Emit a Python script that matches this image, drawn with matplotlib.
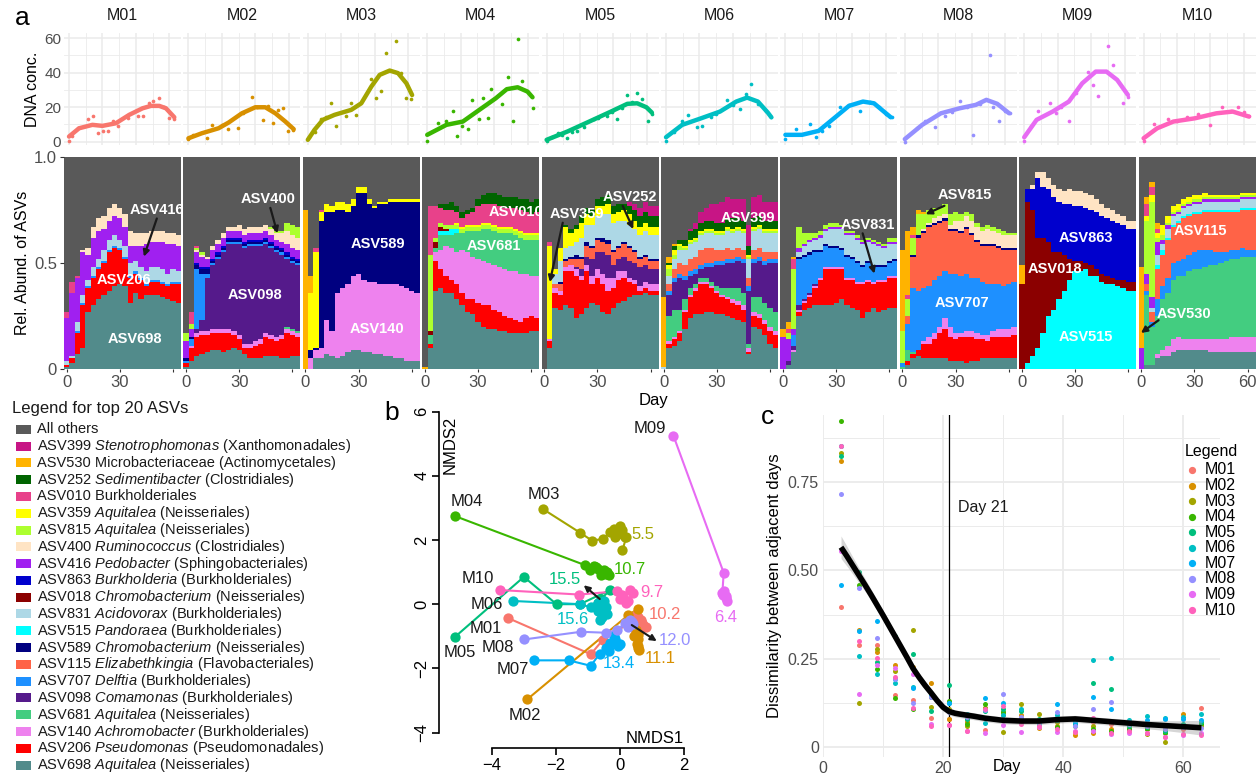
import matplotlib
matplotlib.use("Agg")
import matplotlib.pyplot as plt
import numpy as np
from matplotlib.patches import Rectangle
from matplotlib.lines import Line2D

plt.rcParams['font.family'] = ['Liberation Sans', 'DejaVu Sans']
plt.rcParams['mathtext.fontset'] = 'custom'
plt.rcParams['mathtext.rm'] = 'Liberation Sans'
plt.rcParams['mathtext.it'] = 'Liberation Sans:italic'

W, H = 1258, 775

mice = ["M01", "M02", "M03", "M04", "M05", "M06", "M07", "M08", "M09", "M10"]
mouse_colors = ["#F8766D", "#D89000", "#A3A500", "#39B600", "#00BF7D",
                "#00BFC4", "#00B0F6", "#9590FF", "#E76BF3", "#FF62BC"]

# ---------------- panel a, top: DNA concentration ----------------
m01_day = [0, 1.6, 5.6, 11.6, 14.4, 17.6, 20.6, 23.6, 26.6, 29.6, 35, 41, 44.4, 47.6, 50.4, 53.6, 56.6, 59.6, 62.6]
m01_dna = [0.6, 3.3, 8.1, 13, 14.9, 5.2, 6.4, 6.2, 12.2, 9.1, 13.5, 15.1, 14.9, 22.6, 23.6, 25.5, 19.9, 13.5, 13.2]
m01_fit_day = [0, 6, 14, 20, 28, 36, 44, 49, 54, 58, 63]
m01_fit = [2.9, 7.7, 9.7, 9.1, 10.6, 15.5, 19.3, 20.7, 20.7, 19.3, 14.1]

m02_day = [0, 3, 11, 14, 20, 23.6, 29.6, 32.4, 38, 41, 44.6, 47.6, 50.4, 53.4, 56.6, 59.4, 62.4]
m02_dna = [1.5, 3.9, 2.3, 9.7, 9.7, 7.2, 7.7, 16.4, 25.7, 20.3, 12.6, 20.7, 11, 18.4, 19.3, 6.2, 6.8]
m02_fit_day = [0, 8, 18, 24, 32, 40, 46, 52, 58, 63]
m02_fit = [1.9, 4.8, 7.7, 11, 16.4, 19.9, 19.9, 16.4, 11.6, 7.2]

m03_day = [1, 4, 8, 11, 14, 17, 23, 26, 29, 37.6, 41, 44, 47, 53, 56, 59, 62]
m03_dna = [2.5, 5.8, 13, 14.1, 22.6, 9.1, 14.9, 22.2, 15.5, 36.2, 25.1, 29.6, 51.3, 58.4, 39.7, 25.1, 24.6]
m03_fit_day = [0, 4, 9, 16, 26, 32, 38, 43, 49, 54, 59, 62.4]
m03_fit = [1, 6.8, 12.6, 15.5, 18.4, 22.2, 31.9, 38.7, 41.2, 39.7, 33.8, 27]

m04_day = [0, 6.6, 11.5, 15.4, 18, 20.7, 24.6, 26.9, 31.2, 33.5, 36.1, 38.4, 44.9, 48.2, 51.5, 54.1, 56.8, 63]
m04_dna = [0.4, 11, 12.2, 17.8, 3.3, 9.1, 7.2, 24.2, 13.2, 25.5, 13.5, 30.4, 21.9, 37.3, 12, 59.4, 35.2, 19.7]
m04_fit_day = [0, 11.5, 21.3, 31.2, 41, 47.6, 54.1, 60, 63]
m04_fit = [3.9, 9.7, 11.6, 18.4, 25.1, 30.4, 31.5, 29, 25.7]

m05_day = [0, 3, 6.9, 9.1, 12.4, 15, 18.3, 22.2, 28.1, 31, 36.2, 39, 42.4, 45, 48.3, 51, 54.2, 57.1, 60.7, 63]
m05_dna = [0.4, 2.5, 4.8, 3.9, 1.9, 5.5, 6.4, 8.7, 13, 13.5, 14.9, 17, 13, 19.5, 27.1, 23, 28.4, 24.8, 12, 16]
m05_fit_day = [0, 12.4, 25.5, 38.5, 48.3, 54.2, 59.7, 63]
m05_fit = [1, 5.8, 11.6, 17.4, 21.9, 22.2, 19.9, 16.8]

m06_day = [0, 4.8, 9.7, 12.9, 18.7, 21.6, 26.8, 30, 36.5, 40, 44.3, 47.8, 50.7, 55, 60, 63]
m06_dna = [0.4, 5.8, 12.2, 15.5, 8.3, 9.1, 14.1, 16, 24.2, 21, 18.8, 27.7, 33.5, 22, 18, 14.5]
m06_fit_day = [0, 9.7, 21, 32.3, 42, 48.5, 55, 60.9, 63]
m06_fit = [2.5, 9.7, 13.5, 17.4, 23.2, 25.5, 23.2, 16.8, 14.1]

m07_day = [0, 6.6, 14.9, 18.2, 22, 26, 32.5, 38, 44.8, 50.7, 56, 60, 63.7]
m07_dna = [1.4, 7.2, 10.3, 2.9, 6, 9, 19.9, 21, 17.8, 23.2, 20, 16, 14.1]
m07_fit_day = [0, 9.9, 19.9, 29.8, 38, 46.4, 53, 58.9, 63]
m07_fit = [3.9, 3.9, 6.2, 14.1, 20.7, 23.2, 22.2, 17.4, 14.1]

m08_day = [0, 7.1, 12, 18.3, 24, 28, 32.8, 37, 40.9, 45, 50.9, 53, 56.5, 60, 63]
m08_dna = [0, 8.1, 12, 8.3, 15, 17, 23.8, 20, 3.9, 22, 50.3, 20, 12.2, 18, 16.4]
m08_fit_day = [0, 10.4, 21.6, 32.8, 42.5, 48.8, 55.3, 62.4]
m08_fit = [1.4, 9.7, 16.4, 19.3, 21.3, 24.2, 21.9, 16.4]

m09_day = [0, 4, 8.4, 15.4, 19.3, 22, 26.7, 31, 38, 41.2, 44.4, 50.2, 53.1, 58.9, 62]
m09_dna = [0.6, 9, 18, 22.6, 16.8, 20, 12.2, 28, 40.6, 32.9, 26.5, 55.5, 44.5, 22.2, 26]
m09_fit_day = [0, 7.4, 17, 26.7, 34.7, 42.8, 49.2, 55.6, 62]
m09_fit = [2.5, 12.6, 17.4, 23.2, 33.8, 40.6, 40.6, 35.8, 27.1]

m10_day = [0, 6.5, 14.5, 20, 26, 32.3, 39.7, 46.8, 52, 56.5, 60, 63]
m10_dna = [0.6, 10.3, 13, 12, 14, 15.9, 9.7, 20.3, 18, 19.9, 17, 14.9]
m10_fit_day = [0, 8.1, 17.8, 30.7, 43.6, 53.3, 63]
m10_fit = [1.9, 7.7, 11.6, 13.5, 16.4, 17.4, 14.5]

# ---------------- panel a, bottom: relative abundance ----------------
sample_days = [0, 3, 6, 9, 12, 15, 18, 21, 24, 27, 30, 33, 36, 39, 42, 45, 48, 51, 54, 57, 60, 63]

# stacking order, bottom to top
asv_order = ["ASV698", "ASV206", "ASV140", "ASV681", "ASV098", "ASV707", "ASV115",
             "ASV589", "ASV515", "ASV831", "ASV018", "ASV863", "ASV416", "ASV400",
             "ASV815", "ASV359", "ASV010", "ASV252", "ASV530", "ASV399"]
asv_colors = ["#528B8B", "#FF0000", "#EE82EE", "#43CD80", "#551A8B", "#1E90FF", "#FF6347",
              "#000080", "#00FFFF", "#ADD8E6", "#8B0000", "#0000CD", "#A020F0", "#FFE4C4",
              "#ADFF2F", "#FFFF00", "#E8418A", "#006400", "#FFB300", "#C71585"]
others_color = "#595959"

legend_labels = [
    "All others",
    "ASV399 $\\mathit{Stenotrophomonas}$ (Xanthomonadales)",
    "ASV530 Microbacteriaceae (Actinomycetales)",
    "ASV252 $\\mathit{Sedimentibacter}$ (Clostridiales)",
    "ASV010 Burkholderiales",
    "ASV359 $\\mathit{Aquitalea}$ (Neisseriales)",
    "ASV815 $\\mathit{Aquitalea}$ (Neisseriales)",
    "ASV400 $\\mathit{Ruminococcus}$ (Clostridiales)",
    "ASV416 $\\mathit{Pedobacter}$ (Sphingobacteriales)",
    "ASV863 $\\mathit{Burkholderia}$ (Burkholderiales)",
    "ASV018 $\\mathit{Chromobacterium}$ (Neisseriales)",
    "ASV831 $\\mathit{Acidovorax}$ (Burkholderiales)",
    "ASV515 $\\mathit{Pandoraea}$ (Burkholderiales)",
    "ASV589 $\\mathit{Chromobacterium}$ (Neisseriales)",
    "ASV115 $\\mathit{Elizabethkingia}$ (Flavobacteriales)",
    "ASV707 $\\mathit{Delftia}$ (Burkholderiales)",
    "ASV098 $\\mathit{Comamonas}$ (Burkholderiales)",
    "ASV681 $\\mathit{Aquitalea}$ (Neisseriales)",
    "ASV140 $\\mathit{Achromobacter}$ (Burkholderiales)",
    "ASV206 $\\mathit{Pseudomonas}$ (Pseudomonadales)",
    "ASV698 $\\mathit{Aquitalea}$ (Neisseriales)",
]

m01_abund = {
    "ASV698": [0.01, 0.03, 0.07, 0.10, 0.27, 0.30, 0.33, 0.35, 0.37, 0.39, 0.40, 0.39, 0.31, 0.36, 0.33, 0.35, 0.35, 0.35, 0.34, 0.33, 0.32, 0.31],
    "ASV206": [0.01, 0.02, 0.10, 0.20, 0.11, 0.13, 0.14, 0.15, 0.18, 0.18, 0.16, 0.13, 0.12, 0.09, 0.09, 0.04, 0.06, 0.06, 0.06, 0.06, 0.08, 0.09],
    "ASV707": [0, 0, 0.01, 0.01, 0.01, 0.01, 0.01, 0.01, 0.01, 0.01, 0.01, 0.01, 0.01, 0.01, 0.01, 0.01, 0.01, 0.01, 0.01, 0.01, 0.01, 0.01],
    "ASV831": [0.02, 0.01, 0.04, 0.04, 0.03, 0.04, 0.04, 0.05, 0.05, 0.05, 0.04, 0.05, 0.06, 0.05, 0.05, 0.06, 0.06, 0.06, 0.06, 0.05, 0.06, 0.05],
    "ASV416": [0.20, 0.30, 0.21, 0.20, 0.12, 0.14, 0.13, 0.10, 0.09, 0.09, 0.10, 0.09, 0.08, 0.07, 0.10, 0.13, 0.12, 0.12, 0.13, 0.14, 0.12, 0.12],
    "ASV400": [0, 0, 0, 0.01, 0.03, 0.05, 0.06, 0.06, 0.06, 0.06, 0.05, 0.06, 0.07, 0.06, 0.06, 0.05, 0.05, 0.05, 0.05, 0.05, 0.05, 0.05],
    "ASV010": [0.03, 0.05, 0.01, 0, 0, 0, 0, 0, 0, 0, 0, 0, 0, 0, 0, 0, 0, 0, 0, 0, 0, 0],
}
m02_abund = {
    "ASV698": [0.01, 0.04, 0.06, 0.07, 0.08, 0.09, 0.09, 0.08, 0.09, 0.10, 0.09, 0.07, 0.05, 0.05, 0.05, 0.06, 0.06, 0.06, 0.05, 0.05, 0.06, 0.06],
    "ASV206": [0.02, 0.06, 0.09, 0.09, 0.08, 0.08, 0.08, 0.09, 0.08, 0.06, 0.05, 0.03, 0.05, 0.06, 0.07, 0.09, 0.08, 0.07, 0.09, 0.12, 0.10, 0.09],
    "ASV140": [0, 0.01, 0.02, 0.02, 0.02, 0.02, 0.02, 0.02, 0.02, 0.02, 0.02, 0.02, 0.02, 0.02, 0.02, 0.02, 0.02, 0.02, 0.02, 0.02, 0.02, 0.02],
    "ASV681": [0, 0, 0, 0, 0, 0, 0, 0, 0, 0, 0, 0, 0, 0, 0, 0, 0, 0, 0, 0.01, 0.01, 0.01],
    "ASV098": [0, 0, 0.02, 0.05, 0.25, 0.30, 0.33, 0.36, 0.40, 0.41, 0.43, 0.45, 0.46, 0.45, 0.44, 0.42, 0.41, 0.40, 0.38, 0.32, 0.31, 0.31],
    "ASV707": [0.01, 0.03, 0.28, 0.22, 0.02, 0.01, 0.01, 0.01, 0.01, 0.01, 0.01, 0.01, 0.01, 0.01, 0.01, 0.01, 0.01, 0.01, 0.01, 0.01, 0.01, 0.01],
    "ASV589": [0.01, 0.01, 0.02, 0.02, 0.02, 0.01, 0.01, 0.01, 0.01, 0.01, 0.01, 0.01, 0.01, 0.01, 0.01, 0.01, 0.01, 0.01, 0.01, 0.01, 0.01, 0.01],
    "ASV863": [0, 0, 0.01, 0.01, 0.01, 0.01, 0.01, 0.01, 0.01, 0.01, 0.01, 0.01, 0.01, 0.01, 0.01, 0.01, 0.01, 0.01, 0.01, 0.01, 0.01, 0.01],
    "ASV416": [0.08, 0.04, 0.05, 0.05, 0.04, 0.04, 0.04, 0.04, 0.03, 0.03, 0.03, 0.03, 0.03, 0.03, 0.03, 0.03, 0.03, 0.03, 0.03, 0.04, 0.04, 0.04],
    "ASV400": [0, 0, 0.01, 0.01, 0.01, 0.02, 0.02, 0.02, 0.02, 0.02, 0.03, 0.03, 0.03, 0.03, 0.03, 0.03, 0.03, 0.03, 0.04, 0.06, 0.06, 0.06],
    "ASV815": [0.04, 0.02, 0.01, 0.01, 0, 0, 0, 0, 0, 0, 0, 0, 0, 0, 0, 0, 0.01, 0.01, 0.01, 0.04, 0.05, 0.05],
    "ASV010": [0, 0.06, 0.01, 0, 0, 0, 0, 0, 0, 0, 0, 0, 0, 0, 0, 0, 0, 0, 0, 0, 0, 0],
}
m03_abund = {
    "ASV698": [0, 0, 0.05, 0.05, 0.07, 0.06, 0.05, 0.06, 0.08, 0.09, 0.09, 0.08, 0.08, 0.07, 0.07, 0.06, 0.06, 0.05, 0.05, 0.04, 0.04, 0.04],
    "ASV140": [0, 0.05, 0.04, 0.05, 0.16, 0.12, 0.31, 0.32, 0.32, 0.35, 0.36, 0.34, 0.33, 0.34, 0.33, 0.34, 0.34, 0.35, 0.34, 0.34, 0.33, 0.32],
    "ASV589": [0, 0.04, 0.01, 0.60, 0.51, 0.56, 0.39, 0.37, 0.34, 0.33, 0.38, 0.41, 0.37, 0.35, 0.38, 0.38, 0.39, 0.39, 0.40, 0.41, 0.42, 0.43],
    "ASV359": [0, 0.27, 0.45, 0.04, 0.04, 0.03, 0.04, 0.04, 0.04, 0.03, 0.03, 0.03, 0.02, 0.01, 0.01, 0.01, 0.01, 0.01, 0.01, 0.01, 0.01, 0.01],
    "ASV010": [0, 0, 0.02, 0.01, 0, 0, 0, 0, 0, 0, 0, 0, 0, 0, 0, 0, 0, 0, 0, 0, 0, 0],
    "ASV530": [0.75, 0.08, 0, 0, 0, 0, 0, 0, 0, 0, 0, 0, 0, 0, 0, 0, 0, 0, 0, 0, 0, 0],
}
m04_abund = {
    "ASV698": [0, 0.10, 0.37, 0.38, 0.36, 0.36, 0.33, 0.30, 0.27, 0.26, 0.22, 0.20, 0.19, 0.19, 0.18, 0.18, 0.17, 0.17, 0.17, 0.17, 0.18, 0.18],
    "ASV206": [0, 0.02, 0.14, 0.09, 0.08, 0.06, 0.07, 0.06, 0.06, 0.07, 0.09, 0.10, 0.11, 0.09, 0.09, 0.07, 0.07, 0.06, 0.05, 0.07, 0.07, 0.06],
    "ASV140": [0, 0, 0.04, 0.09, 0.14, 0.15, 0.15, 0.20, 0.22, 0.20, 0.21, 0.21, 0.20, 0.21, 0.21, 0.22, 0.22, 0.23, 0.23, 0.21, 0.19, 0.20],
    "ASV681": [0, 0.04, 0.02, 0.07, 0.05, 0.06, 0.09, 0.08, 0.10, 0.12, 0.13, 0.15, 0.16, 0.16, 0.16, 0.17, 0.18, 0.17, 0.17, 0.16, 0.17, 0.17],
    "ASV515": [0, 0, 0, 0.02, 0.02, 0.03, 0.02, 0, 0, 0, 0, 0, 0, 0, 0, 0, 0, 0, 0, 0, 0, 0],
    "ASV018": [0, 0.02, 0.03, 0.02, 0.01, 0, 0, 0, 0, 0, 0, 0, 0, 0, 0, 0, 0, 0, 0, 0, 0, 0],
    "ASV815": [0, 0.36, 0.02, 0.02, 0.02, 0.02, 0.02, 0.02, 0.02, 0.02, 0.02, 0.02, 0.02, 0.02, 0.02, 0.02, 0.02, 0.02, 0.02, 0.02, 0.02, 0.02],
    "ASV359": [0, 0, 0, 0, 0, 0, 0.01, 0.01, 0.01, 0.01, 0.01, 0.01, 0.01, 0.01, 0.01, 0.01, 0.01, 0.01, 0.01, 0.01, 0.01, 0.01],
    "ASV010": [0, 0.23, 0.15, 0.07, 0.07, 0.07, 0.05, 0.04, 0.05, 0.06, 0.09, 0.09, 0.09, 0.10, 0.10, 0.09, 0.09, 0.10, 0.10, 0.10, 0.09, 0.10],
    "ASV252": [0, 0, 0, 0.02, 0.03, 0.04, 0.03, 0.03, 0.02, 0.02, 0.03, 0.04, 0.05, 0.05, 0.05, 0.05, 0.05, 0.05, 0.05, 0.06, 0.06, 0.06],
    "ASV530": [0.01, 0, 0, 0, 0, 0, 0, 0, 0, 0, 0, 0, 0, 0, 0, 0, 0, 0, 0, 0, 0, 0],
}
m05_abund = {
    "ASV698": [0, 0.10, 0.29, 0.28, 0.30, 0.29, 0.24, 0.26, 0.29, 0.31, 0.30, 0.27, 0.26, 0.29, 0.31, 0.32, 0.34, 0.35, 0.35, 0.36, 0.35, 0.35],
    "ASV206": [0, 0.03, 0.07, 0.07, 0.16, 0.17, 0.20, 0.16, 0.17, 0.09, 0.13, 0.13, 0.11, 0.09, 0.11, 0.11, 0.07, 0.05, 0.02, 0.02, 0.02, 0.02],
    "ASV140": [0, 0.01, 0.02, 0.02, 0.02, 0.03, 0.03, 0.02, 0.03, 0.04, 0.04, 0.05, 0.06, 0.05, 0.04, 0.03, 0.02, 0.02, 0.02, 0.03, 0.03, 0.03],
    "ASV098": [0, 0, 0, 0, 0, 0, 0.01, 0.03, 0.04, 0.08, 0.08, 0.10, 0.11, 0.06, 0.06, 0.07, 0.08, 0.08, 0.09, 0.08, 0.07, 0.07],
    "ASV115": [0, 0, 0.02, 0.03, 0.03, 0.03, 0.04, 0.05, 0.05, 0.05, 0.06, 0.05, 0.05, 0.06, 0.05, 0.06, 0.06, 0.05, 0.04, 0.04, 0.04, 0.04],
    "ASV589": [0, 0, 0, 0.01, 0.01, 0.01, 0.02, 0.01, 0.02, 0.01, 0.01, 0.02, 0.02, 0.01, 0.01, 0.01, 0.01, 0.01, 0.01, 0.01, 0.01, 0.01],
    "ASV831": [0, 0, 0.05, 0.10, 0.05, 0.05, 0.06, 0.09, 0.08, 0.10, 0.10, 0.11, 0.12, 0.13, 0.12, 0.10, 0.10, 0.10, 0.10, 0.11, 0.11, 0.11],
    "ASV359": [0, 0.44, 0.02, 0.06, 0.10, 0.06, 0.06, 0.07, 0.05, 0.04, 0.05, 0.04, 0.05, 0.04, 0.04, 0.05, 0.05, 0.04, 0.04, 0.04, 0.04, 0.04],
    "ASV010": [0, 0.02, 0, 0, 0, 0, 0, 0, 0, 0, 0, 0, 0, 0, 0, 0, 0, 0, 0, 0, 0, 0],
    "ASV252": [0, 0, 0, 0, 0.01, 0.02, 0.02, 0.03, 0.03, 0.03, 0.03, 0.04, 0.04, 0.04, 0.04, 0.03, 0.04, 0.05, 0.05, 0.05, 0.05, 0.05],
    "ASV399": [0, 0, 0, 0, 0, 0, 0, 0, 0, 0, 0, 0, 0, 0, 0, 0, 0.02, 0.03, 0.04, 0.05, 0.05, 0.05],
}
m06_abund = {
    "ASV698": [0, 0.10, 0.11, 0.13, 0.19, 0.24, 0.26, 0.26, 0.27, 0.27, 0.26, 0.26, 0.25, 0.24, 0.23, 0.22, 0.07, 0.20, 0.19, 0.16, 0.12, 0.10],
    "ASV206": [0, 0.02, 0.03, 0.04, 0.08, 0.10, 0.11, 0.14, 0.13, 0.11, 0.10, 0.08, 0.08, 0.07, 0.07, 0.06, 0.01, 0.05, 0.05, 0.05, 0.06, 0.06],
    "ASV140": [0, 0.01, 0.01, 0.01, 0.01, 0.01, 0.01, 0.01, 0.01, 0.01, 0.01, 0.01, 0.01, 0.02, 0.02, 0.02, 0.02, 0.02, 0.02, 0.02, 0.02, 0.02],
    "ASV681": [0, 0.12, 0.13, 0.10, 0.05, 0.03, 0.02, 0.02, 0.02, 0.02, 0.02, 0.03, 0.04, 0.05, 0.06, 0.06, 0.02, 0.07, 0.08, 0.08, 0.09, 0.09],
    "ASV098": [0, 0.10, 0.13, 0.15, 0.09, 0.06, 0.05, 0.04, 0.05, 0.07, 0.10, 0.11, 0.12, 0.12, 0.13, 0.14, 0.25, 0.16, 0.17, 0.18, 0.21, 0.23],
    "ASV707": [0, 0.02, 0.02, 0.02, 0.02, 0.02, 0.02, 0.02, 0.02, 0.02, 0.02, 0.02, 0.02, 0.02, 0.02, 0.02, 0.02, 0.02, 0.02, 0.02, 0.02, 0.02],
    "ASV115": [0, 0.03, 0.04, 0.05, 0.05, 0.06, 0.06, 0.07, 0.07, 0.07, 0.05, 0.05, 0.05, 0.04, 0.04, 0.04, 0.04, 0.04, 0.04, 0.04, 0.03, 0.03],
    "ASV831": [0.01, 0.04, 0.05, 0.06, 0.07, 0.07, 0.07, 0.07, 0.07, 0.07, 0.07, 0.07, 0.08, 0.08, 0.08, 0.08, 0.09, 0.09, 0.09, 0.09, 0.09, 0.09],
    "ASV815": [0, 0.03, 0.02, 0.02, 0.01, 0.01, 0.01, 0.01, 0.01, 0.01, 0.01, 0.01, 0.01, 0.01, 0.01, 0.01, 0.01, 0.01, 0.01, 0.01, 0.01, 0.01],
    "ASV359": [0, 0.02, 0.02, 0.01, 0.01, 0.01, 0.01, 0.01, 0.01, 0.01, 0.01, 0.01, 0.01, 0.01, 0.01, 0.01, 0.01, 0.01, 0.01, 0.01, 0.01, 0.01],
    "ASV252": [0, 0.01, 0.02, 0.02, 0.03, 0.04, 0.04, 0.04, 0.04, 0.04, 0.04, 0.04, 0.04, 0.05, 0.04, 0.04, 0.04, 0.04, 0.04, 0.04, 0.04, 0.04],
    "ASV530": [0.33, 0.03, 0.01, 0, 0, 0, 0, 0, 0, 0, 0, 0, 0, 0, 0, 0, 0, 0, 0, 0, 0, 0],
    "ASV399": [0, 0, 0, 0, 0, 0.01, 0.03, 0.05, 0.06, 0.08, 0.09, 0.10, 0.10, 0.09, 0.09, 0.10, 0.10, 0.10, 0.10, 0.09, 0.09, 0.09],
}
m07_abund = {
    "ASV698": [0, 0.02, 0.08, 0.25, 0.28, 0.29, 0.30, 0.30, 0.30, 0.30, 0.31, 0.33, 0.30, 0.29, 0.28, 0.24, 0.27, 0.29, 0.27, 0.28, 0.29, 0.29],
    "ASV206": [0, 0, 0, 0.02, 0.03, 0.05, 0.08, 0.12, 0.17, 0.17, 0.16, 0.14, 0.12, 0.13, 0.12, 0.16, 0.14, 0.11, 0.14, 0.13, 0.14, 0.14],
    "ASV140": [0, 0, 0.01, 0.01, 0.01, 0.01, 0.01, 0.01, 0.01, 0.01, 0.01, 0.01, 0.01, 0.01, 0.01, 0.01, 0.01, 0.01, 0.01, 0.01, 0.01, 0.01],
    "ASV098": [0, 0.02, 0.02, 0.02, 0.01, 0.01, 0.01, 0, 0, 0, 0, 0, 0, 0, 0, 0, 0, 0, 0, 0, 0, 0],
    "ASV707": [0, 0, 0.05, 0.22, 0.20, 0.18, 0.15, 0.12, 0.10, 0.09, 0.09, 0.08, 0.10, 0.09, 0.09, 0.07, 0.08, 0.07, 0.06, 0.06, 0.06, 0.07],
    "ASV589": [0, 0, 0, 0.01, 0.01, 0.01, 0.01, 0.01, 0.01, 0.01, 0.01, 0.01, 0.01, 0.01, 0.01, 0.01, 0.01, 0.01, 0.01, 0.01, 0.01, 0.01],
    "ASV831": [0, 0, 0, 0.02, 0.04, 0.05, 0.05, 0.06, 0.06, 0.08, 0.08, 0.09, 0.09, 0.10, 0.10, 0.10, 0.09, 0.10, 0.09, 0.08, 0.08, 0.07],
    "ASV416": [0.15, 0.10, 0.03, 0.02, 0.01, 0.01, 0.01, 0.01, 0.01, 0.01, 0.01, 0.01, 0.01, 0.01, 0.01, 0.01, 0.01, 0.01, 0.01, 0.01, 0.01, 0.01],
    "ASV815": [0, 0.03, 0.28, 0.10, 0.05, 0.03, 0.02, 0.02, 0.02, 0.02, 0.02, 0.01, 0.01, 0.01, 0.01, 0.01, 0.01, 0.01, 0.01, 0.01, 0.02, 0.02],
    "ASV010": [0, 0.02, 0.05, 0, 0, 0, 0, 0, 0, 0, 0, 0, 0, 0, 0, 0, 0, 0, 0, 0, 0, 0],
    "ASV530": [0.04, 0.03, 0.01, 0, 0, 0, 0, 0, 0, 0, 0, 0, 0, 0, 0, 0, 0, 0, 0, 0, 0, 0],
}
m08_abund = {
    "ASV698": [0, 0.02, 0.05, 0.06, 0.05, 0.05, 0.05, 0.05, 0.05, 0.04, 0.04, 0.04, 0.03, 0.04, 0.04, 0.05, 0.05, 0.05, 0.05, 0.05, 0.05, 0.05],
    "ASV206": [0, 0.02, 0.02, 0.03, 0.07, 0.07, 0.09, 0.12, 0.14, 0.11, 0.10, 0.11, 0.12, 0.11, 0.10, 0.09, 0.08, 0.10, 0.10, 0.10, 0.10, 0.11],
    "ASV140": [0, 0, 0, 0, 0.01, 0.03, 0.03, 0.03, 0.05, 0.05, 0.03, 0.02, 0.03, 0.03, 0.03, 0.02, 0.03, 0.03, 0.04, 0.04, 0.04, 0.04],
    "ASV681": [0.01, 0.05, 0.01, 0, 0, 0, 0, 0, 0, 0, 0, 0, 0, 0, 0, 0, 0, 0, 0, 0, 0, 0],
    "ASV707": [0.02, 0.12, 0.30, 0.28, 0.25, 0.24, 0.25, 0.24, 0.22, 0.25, 0.28, 0.27, 0.27, 0.25, 0.26, 0.25, 0.24, 0.22, 0.21, 0.20, 0.21, 0.21],
    "ASV115": [0, 0.04, 0.15, 0.25, 0.26, 0.28, 0.26, 0.25, 0.24, 0.20, 0.20, 0.20, 0.21, 0.20, 0.17, 0.17, 0.18, 0.18, 0.17, 0.17, 0.16, 0.15],
    "ASV589": [0, 0, 0.01, 0.01, 0.01, 0.01, 0.01, 0.01, 0.01, 0.01, 0.01, 0.01, 0.01, 0.01, 0.01, 0.01, 0.01, 0.01, 0.01, 0.01, 0.01, 0.01],
    "ASV400": [0, 0, 0, 0, 0.01, 0.01, 0.02, 0.02, 0.02, 0.02, 0.04, 0.05, 0.05, 0.06, 0.06, 0.06, 0.07, 0.06, 0.06, 0.06, 0.06, 0.06],
    "ASV815": [0.15, 0.08, 0.08, 0.10, 0.07, 0.06, 0.05, 0.04, 0.05, 0.05, 0.04, 0.03, 0.02, 0.03, 0.02, 0.02, 0.02, 0.02, 0.02, 0.02, 0.01, 0.01],
    "ASV010": [0, 0.02, 0.01, 0, 0, 0, 0, 0, 0, 0, 0, 0, 0, 0, 0, 0, 0, 0, 0, 0, 0, 0],
    "ASV530": [0.38, 0.30, 0.04, 0.02, 0.01, 0, 0, 0, 0, 0, 0, 0, 0, 0, 0, 0, 0, 0, 0, 0, 0, 0],
}
m09_abund = {
    "ASV515": [0, 0.03, 0.06, 0.10, 0.17, 0.25, 0.28, 0.33, 0.37, 0.42, 0.46, 0.46, 0.47, 0.44, 0.44, 0.41, 0.40, 0.40, 0.39, 0.38, 0.37, 0.37],
    "ASV018": [0.40, 0.76, 0.69, 0.52, 0.45, 0.35, 0.27, 0.22, 0.17, 0.10, 0.05, 0.05, 0.03, 0.05, 0.03, 0.04, 0.04, 0.03, 0.03, 0.04, 0.04, 0.04],
    "ASV863": [0, 0.06, 0.10, 0.28, 0.24, 0.25, 0.26, 0.24, 0.24, 0.26, 0.26, 0.26, 0.26, 0.26, 0.27, 0.27, 0.27, 0.27, 0.27, 0.26, 0.25, 0.25],
    "ASV400": [0, 0, 0.02, 0.03, 0.07, 0.05, 0.06, 0.06, 0.06, 0.07, 0.07, 0.07, 0.07, 0.07, 0.06, 0.06, 0.05, 0.05, 0.04, 0.04, 0.04, 0.04],
    "ASV530": [0.09, 0, 0, 0, 0, 0, 0, 0, 0, 0, 0, 0, 0, 0, 0, 0, 0, 0, 0, 0, 0, 0],
}
m10_abund = {
    "ASV698": [0, 0.02, 0.02, 0.05, 0.06, 0.06, 0.08, 0.09, 0.09, 0.09, 0.09, 0.09, 0.09, 0.08, 0.08, 0.08, 0.08, 0.08, 0.08, 0.08, 0.08, 0.08],
    "ASV140": [0, 0, 0, 0.02, 0.03, 0.05, 0.06, 0.06, 0.05, 0.05, 0.05, 0.05, 0.05, 0.06, 0.06, 0.06, 0.06, 0.07, 0.07, 0.07, 0.07, 0.07],
    "ASV681": [0, 0.33, 0.18, 0.18, 0.24, 0.25, 0.28, 0.29, 0.30, 0.32, 0.33, 0.33, 0.34, 0.35, 0.35, 0.36, 0.37, 0.37, 0.37, 0.38, 0.38, 0.38],
    "ASV707": [0, 0.02, 0.02, 0.08, 0.06, 0.07, 0.08, 0.07, 0.08, 0.08, 0.08, 0.09, 0.08, 0.07, 0.06, 0.05, 0.04, 0.04, 0.04, 0.04, 0.03, 0.03],
    "ASV115": [0, 0.03, 0.05, 0.14, 0.15, 0.18, 0.17, 0.18, 0.19, 0.18, 0.18, 0.17, 0.18, 0.18, 0.19, 0.19, 0.19, 0.18, 0.18, 0.18, 0.19, 0.19],
    "ASV515": [0, 0, 0, 0.02, 0.02, 0.01, 0.01, 0.01, 0.01, 0.01, 0.01, 0.01, 0.01, 0.01, 0.01, 0.01, 0.01, 0.01, 0.01, 0.01, 0.01, 0.01],
    "ASV831": [0, 0, 0.02, 0.05, 0.03, 0.04, 0.04, 0.03, 0.04, 0.04, 0.04, 0.04, 0.04, 0.04, 0.04, 0.04, 0.04, 0.04, 0.04, 0.04, 0.04, 0.04],
    "ASV416": [0.10, 0.05, 0.05, 0.06, 0.02, 0.02, 0.01, 0.01, 0.01, 0.01, 0.01, 0.01, 0.01, 0.01, 0.01, 0.01, 0.01, 0.01, 0.01, 0.01, 0.01, 0.01],
    "ASV815": [0, 0.25, 0.45, 0.02, 0.02, 0.01, 0.01, 0.01, 0.01, 0.01, 0.01, 0.01, 0.01, 0.01, 0.01, 0.01, 0.01, 0.01, 0.01, 0.01, 0.01, 0.01],
    "ASV359": [0, 0.02, 0.03, 0.02, 0.05, 0.03, 0.03, 0.03, 0.02, 0.02, 0.02, 0.02, 0.02, 0.01, 0.01, 0.01, 0.01, 0.01, 0.01, 0.01, 0.01, 0.01],
    "ASV010": [0, 0.06, 0.04, 0.02, 0, 0, 0, 0, 0, 0, 0, 0, 0, 0, 0, 0, 0, 0, 0, 0, 0, 0],
    "ASV530": [0.38, 0.03, 0.02, 0.03, 0, 0, 0, 0, 0, 0, 0, 0, 0, 0, 0, 0, 0, 0, 0, 0, 0, 0],
}

# ---------------- panel b: NMDS trajectories ----------------
m01_nx = [-3.50, -0.91, -0.54, 0.35, 0.55, 0.70, 0.45, 0.60, 0.80, 0.65, 0.50, 0.72]
m01_ny = [-0.43, -1.56, -1.12, -0.55, -0.40, -0.60, -0.75, -0.85, -0.70, -0.50, -0.35, -0.65]
m02_nx = [-2.89, 0.26, 0.57, 0.42, 0.50, 0.55, 0.57, 0.52, 0.45, 0.57, 0.60, 0.57]
m02_ny = [-2.96, -0.34, -0.14, -0.65, -0.80, -0.97, -1.10, -1.23, -1.00, -1.35, -1.43, -1.30]
m03_nx = [-2.40, -1.25, -0.87, -0.54, -0.30, -0.15, 0.00, -0.20, 0.05, 0.15, -0.05, 0.20, 0.08]
m03_ny = [2.96, 2.23, 1.98, 2.03, 2.25, 2.10, 2.45, 2.35, 2.30, 2.10, 2.20, 2.10, 1.68]
m04_nx = [-5.14, -1.10, -0.95, -0.80, -0.70, -0.55, -0.40, -0.60, -0.75, -0.50, -0.35, -0.45]
m04_ny = [2.74, 1.22, 1.05, 1.20, 1.10, 0.95, 1.00, 0.90, 1.15, 1.05, 0.90, 0.95]
m05_nx = [-5.14, -3.00, -1.98, -1.25, -0.31, -0.60, -0.70, -0.55]
m05_ny = [-1.01, 0.85, 0.00, 0.00, 0.44, 0.15, 0.05, 0.10]
m06_nx = [-3.34, -1.25, -0.90, -0.70, -0.60, -0.45, -0.55, -0.70, -0.50, -0.62, -0.40, -0.65]
m06_ny = [0.10, 0.00, -0.10, 0.05, -0.25, -0.10, -0.40, -0.20, 0.10, -0.50, -0.30, -0.05]
m07_nx = [-2.69, -1.60, -0.91, -0.63, -0.45, -0.30, -0.15, -0.05, -0.35, -0.20, 0.00]
m07_ny = [-1.75, -1.75, -1.92, -1.54, -1.35, -1.20, -1.10, -1.30, -1.45, -1.00, -1.25]
m08_nx = [-3.00, -1.22, -0.42, -0.10, 0.15, 0.30, 0.37, 0.25, 0.40]
m08_ny = [-1.10, -0.86, -0.89, -0.81, -0.60, -0.50, -0.55, -0.70, -0.62]
m09_nx = [1.67, 3.24, 3.20, 3.30, 3.25, 3.35, 3.22, 3.30]
m09_ny = [5.25, 0.98, 0.35, 0.25, 0.40, 0.10, 0.30, 0.20]
m10_nx = [-3.74, -1.27, -0.10, 0.10, 0.30, 0.00, 0.20, 0.40, 0.05, 0.25]
m10_ny = [0.44, 0.30, 0.40, 0.25, 0.45, 0.15, 0.05, 0.35, 0.30, 0.10]

end_labels = ["10.2", "11.1", "5.5", "10.7", "15.5", "15.6", "13.4", "12.0", "6.4", "9.7"]

# ---------------- panel c: dissimilarity between adjacent days ----------------
c_days = [3, 6, 9, 12, 15, 18, 21, 24, 27, 30, 33, 36, 39, 42, 45, 48, 51, 54, 57, 60, 63]
dis_m01 = [0.396, 0.29, 0.288, 0.148, 0.132, 0.082, 0.08, 0.075, 0.047, 0.09, 0.075, 0.06, 0.055, 0.042, 0.07, 0.066, 0.055, 0.05, 0.045, 0.05, 0.11]
dis_m02 = [0.81, 0.33, 0.27, 0.231, 0.226, 0.182, 0.08, 0.071, 0.11, 0.099, 0.09, 0.052, 0.06, 0.033, 0.038, 0.05, 0.045, 0.058, 0.05, 0.094, 0.06]
dis_m03 = [0.833, 0.123, 0.276, 0.215, 0.332, 0.113, 0.108, 0.058, 0.111, 0.041, 0.12, 0.092, 0.07, 0.06, 0.06, 0.041, 0.05, 0.035, 0.014, 0.06, 0.071]
dis_m04 = [0.925, 0.459, 0.22, 0.137, 0.107, 0.14, 0.13, 0.065, 0.12, 0.10, 0.08, 0.07, 0.057, 0.065, 0.049, 0.045, 0.05, 0.05, 0.04, 0.06, 0.065]
dis_m05 = [0.825, 0.496, 0.24, 0.313, 0.264, 0.101, 0.175, 0.08, 0.101, 0.106, 0.102, 0.08, 0.075, 0.07, 0.182, 0.163, 0.06, 0.055, 0.045, 0.065, 0.07]
dis_m06 = [0.854, 0.258, 0.205, 0.182, 0.17, 0.151, 0.125, 0.094, 0.068, 0.09, 0.108, 0.061, 0.09, 0.063, 0.245, 0.252, 0.075, 0.088, 0.082, 0.085, 0.094]
dis_m07 = [0.459, 0.327, 0.358, 0.193, 0.167, 0.151, 0.125, 0.09, 0.137, 0.123, 0.07, 0.07, 0.121, 0.07, 0.142, 0.107, 0.07, 0.075, 0.08, 0.08, 0.075]
dis_m08 = [0.717, 0.45, 0.308, 0.193, 0.123, 0.142, 0.1, 0.085, 0.105, 0.149, 0.085, 0.07, 0.099, 0.06, 0.107, 0.127, 0.065, 0.06, 0.05, 0.055, 0.052]
dis_m09 = [0.555, 0.151, 0.231, 0.224, 0.205, 0.066, 0.061, 0.044, 0.038, 0.063, 0.042, 0.057, 0.042, 0.045, 0.045, 0.035, 0.04, 0.04, 0.028, 0.033, 0.04]
dis_m10 = [0.854, 0.30, 0.253, 0.198, 0.111, 0.059, 0.061, 0.044, 0.106, 0.116, 0.066, 0.06, 0.05, 0.042, 0.082, 0.04, 0.045, 0.038, 0.028, 0.035, 0.033]

smooth_day = [3, 4, 5, 6, 7, 8, 9, 10, 11, 12, 13, 14, 15, 16, 17, 18, 19, 20, 21, 22, 23,
              25, 27, 30, 33, 36, 39, 42, 45, 48, 51, 54, 57, 60, 63]
smooth_val = [0.566, 0.540, 0.513, 0.486, 0.459, 0.431, 0.402, 0.373, 0.343, 0.313, 0.283, 0.253,
              0.222, 0.197, 0.174, 0.153, 0.131, 0.112, 0.100, 0.095, 0.092,
              0.087, 0.081, 0.075, 0.073, 0.073, 0.077, 0.079, 0.075, 0.071, 0.067, 0.063, 0.060, 0.057, 0.054]
smooth_se = [0.032, 0.028, 0.024, 0.021, 0.018, 0.016, 0.015, 0.014, 0.013, 0.012, 0.012, 0.012,
             0.012, 0.012, 0.012, 0.011, 0.011, 0.011, 0.010, 0.010, 0.010,
             0.010, 0.010, 0.010, 0.010, 0.010, 0.010, 0.010, 0.010, 0.010, 0.011, 0.012, 0.014, 0.017, 0.021]


fig = plt.figure(figsize=(W / 100, H / 100), dpi=100)


def px_axes(left, top, width, height):
    return fig.add_axes([left / W, 1 - (top + height) / H, width / W, height / H])


def px_text(x, y, s, **kw):
    return fig.text(x / W, 1 - y / H, s, **kw)


dna_points = [(m01_day, m01_dna), (m02_day, m02_dna), (m03_day, m03_dna), (m04_day, m04_dna),
              (m05_day, m05_dna), (m06_day, m06_dna), (m07_day, m07_dna), (m08_day, m08_dna),
              (m09_day, m09_dna), (m10_day, m10_dna)]
dna_fits = [(m01_fit_day, m01_fit), (m02_fit_day, m02_fit), (m03_fit_day, m03_fit), (m04_fit_day, m04_fit),
            (m05_fit_day, m05_fit), (m06_fit_day, m06_fit), (m07_fit_day, m07_fit), (m08_fit_day, m08_fit),
            (m09_fit_day, m09_fit), (m10_fit_day, m10_fit)]
abund = [m01_abund, m02_abund, m03_abund, m04_abund, m05_abund,
         m06_abund, m07_abund, m08_abund, m09_abund, m10_abund]

grid_col = "#EBEBEB"
tick_col = "#4D4D4D"
bar_axes = []

for i, m in enumerate(mice):
    left = 64 + 119.4 * i
    col = mouse_colors[i]

    # DNA concentration panel
    ax = px_axes(left, 33, 117, 112)
    ax.set_xlim(-3, 67)
    ax.set_ylim(-2, 63)
    ax.set_xticks([0, 20, 40, 60])
    ax.set_xticks([10, 30, 50], minor=True)
    ax.set_yticks([0, 20, 40, 60])
    ax.set_yticks([10, 30, 50], minor=True)
    ax.grid(which='major', color=grid_col, lw=1.1)
    ax.grid(which='minor', color=grid_col, lw=0.6)
    ax.set_axisbelow(True)
    for s in ax.spines.values():
        s.set_visible(False)
    ax.tick_params(which='both', length=0, labelbottom=False, labelleft=(i == 0),
                   labelsize=11, labelcolor=tick_col, pad=2)
    d, v = dna_points[i]
    fd, fv = dna_fits[i]
    ax.scatter(d, v, s=7, color=col, lw=0, zorder=3)
    ax.plot(fd, fv, color=col, lw=3.2, solid_capstyle='round', solid_joinstyle='round', zorder=4)
    if i == 0:
        ax.set_ylabel("DNA conc.", fontsize=11.5, labelpad=3)
    px_text(left + 58.5, 15, m, ha='center', va='center', fontsize=11.5, color='#1A1A1A')

    # relative abundance panel
    ax = px_axes(left, 157, 117.5, 212)
    bottom = np.zeros(len(sample_days))
    for asv, c in zip(asv_order, asv_colors):
        if asv in abund[i]:
            vals = np.array(abund[i][asv])
            ax.bar(sample_days, vals, width=3, bottom=bottom, color=c, linewidth=0)
            bottom = bottom + vals
    ax.bar(sample_days, 1 - bottom, width=3, bottom=bottom, color=others_color, linewidth=0)
    ax.set_xlim(-1.5, 64.8)
    ax.set_ylim(0, 1)
    for s in ax.spines.values():
        s.set_visible(False)
    ax.set_xticks([0, 30, 60])
    if i == len(mice) - 1:
        ax.set_xticklabels(["0", "30", "60"])
    else:
        ax.set_xticklabels(["0", "30", ""])
    ax.tick_params(axis='x', length=2.5, labelsize=12, labelcolor=tick_col, color='#333333', pad=2)
    if i == 0:
        ax.set_yticks([0, 0.5, 1.0])
        ax.set_yticklabels(["0", "0.5", "1.0"])
        ax.tick_params(axis='y', length=3, labelsize=12, labelcolor=tick_col, color='#333333', pad=2)
        ax.set_ylabel("Rel. Abund. of ASVs", fontsize=11.5, labelpad=3)
    else:
        ax.set_yticks([])
    bar_axes.append(ax)

# white labels on the stacked bars: panel, text, x, y (axes fraction), arrow tail, arrow tip
bar_labels = [
    (0, "ASV416", 0.79, 0.75, (0.79, 0.71), (0.68, 0.53)),
    (0, "ASV206", 0.51, 0.42, None, None),
    (0, "ASV698", 0.60, 0.14, None, None),
    (1, "ASV400", 0.72, 0.80, (0.74, 0.76), (0.80, 0.64)),
    (1, "ASV098", 0.61, 0.35, None, None),
    (2, "ASV589", 0.64, 0.59, None, None),
    (2, "ASV140", 0.63, 0.19, None, None),
    (3, "ASV010", 0.80, 0.74, None, None),
    (3, "ASV681", 0.61, 0.58, None, None),
    (4, "ASV359", 0.30, 0.73, (0.18, 0.69), (0.07, 0.41)),
    (4, "ASV252", 0.75, 0.81, (0.69, 0.77), (0.78, 0.66)),
    (5, "ASV399", 0.74, 0.71, None, None),
    (6, "ASV831", 0.74, 0.68, (0.70, 0.64), (0.80, 0.45)),
    (7, "ASV815", 0.55, 0.82, (0.38, 0.77), (0.22, 0.73)),
    (7, "ASV707", 0.53, 0.31, None, None),
    (8, "ASV863", 0.57, 0.62, None, None),
    (8, "ASV018", 0.30, 0.47, None, None),
    (8, "ASV515", 0.57, 0.15, None, None),
    (9, "ASV115", 0.53, 0.65, None, None),
    (9, "ASV530", 0.39, 0.26, (0.17, 0.23), (0.02, 0.17)),
]
for k, lab, fx, fy, tail, tip in bar_labels:
    ax = bar_axes[k]
    ax.text(fx, fy, lab, transform=ax.transAxes, color='white', fontweight='bold',
            fontsize=10.5, ha='center', va='center', zorder=6, clip_on=True)
    if tip is not None:
        ax.annotate('', xy=tip, xytext=tail, xycoords='axes fraction', textcoords='axes fraction',
                    arrowprops=dict(arrowstyle='-|>', color='#1A1A1A', lw=1.6, mutation_scale=9,
                                    shrinkA=0, shrinkB=0), zorder=7)

px_text(22, 18, "a", ha='center', va='center', fontsize=19)
px_text(653, 400, "Day", ha='center', va='center', fontsize=12)

# ---------------- legend for ASVs ----------------
px_text(12.5, 409, "Legend for top 20 ASVs", ha='left', va='center', fontsize=12, color='#1A1A1A')
legend_colors = [others_color] + asv_colors[::-1]
for j, (lab, c) in enumerate(zip(legend_labels, legend_colors)):
    yc = 429.3 + 16.79 * j
    fig.add_artist(Rectangle((16 / W, 1 - (yc + 4.5) / H), 15 / W, 9 / H,
                             transform=fig.transFigure, facecolor=c, edgecolor='none'))
    px_text(37.3, yc, lab, ha='left', va='center', fontsize=10.5, color='#1A1A1A')

# ---------------- panel b ----------------
axb = px_axes(439, 400, 293, 348)
axb.set_xlim(-5.65, 3.5)
axb.set_ylim(-4.48, 6.36)
axb.spines['top'].set_visible(False)
axb.spines['right'].set_visible(False)
axb.spines['left'].set_bounds(-4, 6)
axb.spines['bottom'].set_bounds(-4, 2)
axb.spines['left'].set_linewidth(1.2)
axb.spines['bottom'].set_linewidth(1.2)
axb.set_xticks([-4, -2, 0, 2])
axb.set_yticks([-4, -2, 0, 2, 4, 6])
axb.tick_params(length=5, width=1.2, labelsize=12, pad=2)
for t in axb.get_yticklabels():
    t.set_rotation(90)
    t.set_va('center')
axb.patch.set_alpha(0)

nmds = [(m01_nx, m01_ny), (m02_nx, m02_ny), (m03_nx, m03_ny), (m04_nx, m04_ny), (m05_nx, m05_ny),
        (m06_nx, m06_ny), (m07_nx, m07_ny), (m08_nx, m08_ny), (m09_nx, m09_ny), (m10_nx, m10_ny)]
draw_order = [8, 2, 3, 4, 5, 9, 0, 1, 6, 7]
for i in draw_order:
    x, y = nmds[i]
    axb.plot(x, y, color=mouse_colors[i], lw=1.5, zorder=2)
    axb.scatter(x, y, s=55, color=mouse_colors[i], lw=0, zorder=3)

name_pos = [(-4.18, -0.76), (-2.97, -3.46), (-2.37, 3.43), (-4.78, 3.21), (-5.01, -1.49),
            (-4.15, 0.0), (-3.36, -2.03), (-3.81, -1.35), (0.92, 5.48), (-4.44, 0.80)]
end_pos = [(1.41, -0.31), (1.25, -1.69), (0.73, 2.17), (0.31, 1.09), (-1.72, 0.77),
           (-1.46, -0.47), (-0.02, -1.85), (1.72, -1.14), (3.3, -0.40), (0.99, 0.35)]
for i in range(10):
    axb.text(*name_pos[i], mice[i], ha='center', va='center', fontsize=12, color='#1A1A1A', zorder=5)
    axb.text(*end_pos[i], end_labels[i], ha='center', va='center', fontsize=12,
             color=mouse_colors[i], zorder=5, clip_on=False)
axb.annotate('', xy=(-1.13, 0.59), xytext=(-0.63, 0.16),
             arrowprops=dict(arrowstyle='-|>', color='#1A1A1A', lw=1.5, mutation_scale=9, shrinkA=0, shrinkB=0), zorder=6)
axb.annotate('', xy=(1.15, -1.15), xytext=(0.37, -0.65),
             arrowprops=dict(arrowstyle='-|>', color='#1A1A1A', lw=1.5, mutation_scale=9, shrinkA=0, shrinkB=0), zorder=6)
axb.text(-5.31, 4.95, "NMDS2", rotation=90, ha='center', va='center', fontsize=12)
axb.text(1.09, -4.17, "NMDS1", ha='center', va='center', fontsize=12)
px_text(392, 413, "b", ha='center', va='center', fontsize=19)

# ---------------- panel c ----------------
axc = px_axes(823, 415, 397, 342)
axc.set_xlim(0, 66.1)
axc.set_ylim(-0.029, 0.941)
axc.set_xticks([0, 20, 40, 60])
axc.set_xticks([10, 30, 50], minor=True)
axc.set_yticks([0, 0.25, 0.5, 0.75])
axc.set_yticklabels(["0", "0.25", "0.50", "0.75"])
axc.set_yticks([0.125, 0.375, 0.625, 0.875], minor=True)
axc.grid(which='major', color=grid_col, lw=1.3)
axc.grid(which='minor', color=grid_col, lw=0.7)
axc.set_axisbelow(True)
for s in axc.spines.values():
    s.set_visible(False)
axc.tick_params(which='both', length=0, labelsize=11.5, labelcolor=tick_col, pad=3)
axc.set_ylabel("Dissimilarity between adjacent days", fontsize=12, labelpad=4)

dis_all = [dis_m01, dis_m02, dis_m03, dis_m04, dis_m05, dis_m06, dis_m07, dis_m08, dis_m09, dis_m10]
for i in range(10):
    axc.scatter(c_days, dis_all[i], s=13, color=mouse_colors[i], lw=0, zorder=3)
sv = np.array(smooth_val)
se = np.array(smooth_se)
axc.fill_between(smooth_day, sv - se, sv + se, color='#999999', alpha=0.4, lw=0, zorder=4)
axc.plot(smooth_day, smooth_val, color='black', lw=4, zorder=5, solid_capstyle='butt',
         solid_joinstyle='round')
axc.axvline(21, color='black', lw=0.9, zorder=2)
axc.text(22.4, 0.68, "Day 21", ha='left', va='center', fontsize=11.5, color='#1A1A1A')
px_text(1007, 774, "Day", ha='center', va='bottom', fontsize=11.5)
px_text(768, 417, "c", ha='center', va='center', fontsize=19)

px_text(1185, 451.7, "Legend", ha='left', va='center', fontsize=11.5)
for i in range(10):
    yc = 470 + 15.56 * i
    fig.add_artist(Line2D([1192 / W], [1 - yc / H], marker='o', markersize=4.2, linestyle='none',
                          color=mouse_colors[i], transform=fig.transFigure))
    px_text(1205, yc, mice[i], ha='left', va='center', fontsize=11.5)

fig.savefig("out.png", dpi=100)
